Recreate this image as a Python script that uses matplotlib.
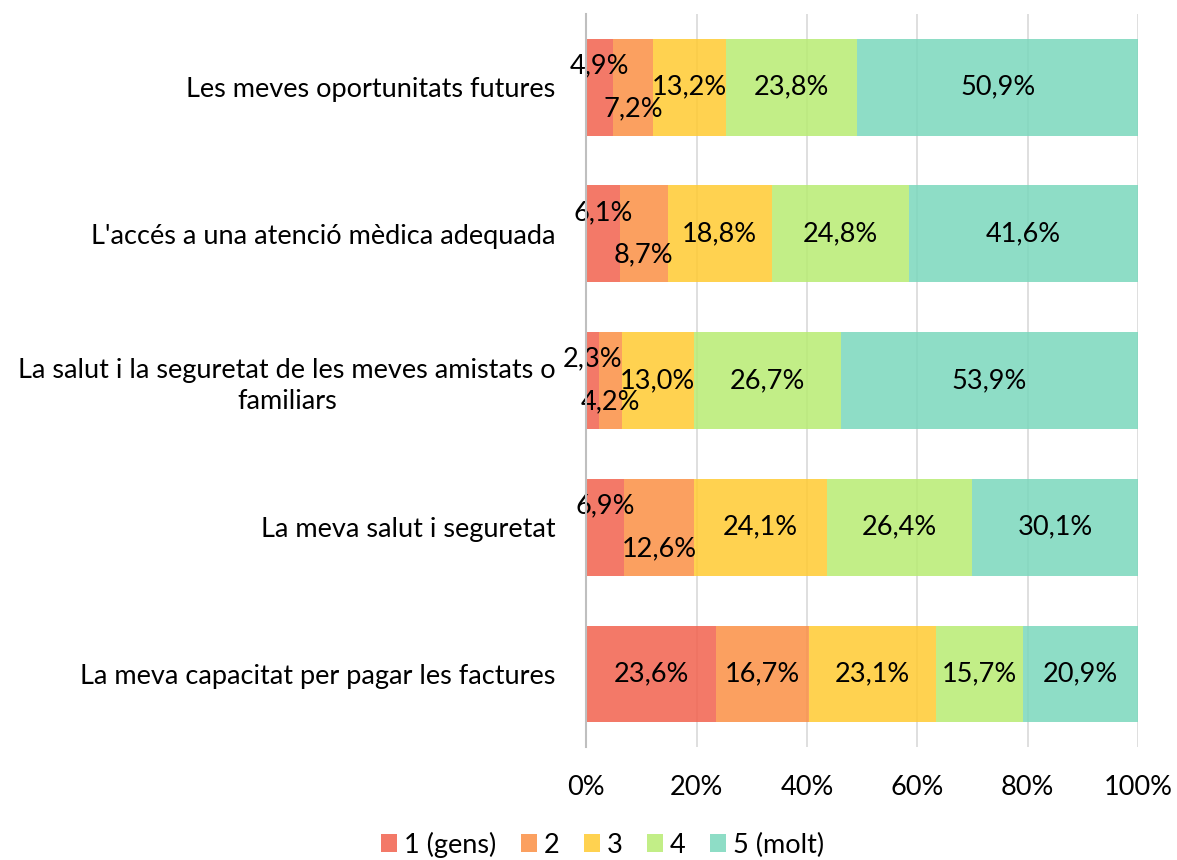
import numpy as np
import matplotlib.pyplot as plt
from matplotlib.patches import Patch
from matplotlib.ticker import PercentFormatter

plt.rcParams['font.family'] = ['Lato', 'DejaVu Sans']

categories = [
    "Les meves oportunitats futures",
    "L'accés a una atenció mèdica adequada",
    "La salut i la seguretat de les meves amistats o\nfamiliars",
    "La meva salut i seguretat",
    "La meva capacitat per pagar les factures",
]
series_names = ["1 (gens)", "2", "3", "4", "5 (molt)"]
# one list per answer level, one value per category (top to bottom)
gens_1 = [4.9, 6.1, 2.3, 6.9, 23.6]
level_2 = [7.2, 8.7, 4.2, 12.6, 16.7]
level_3 = [13.2, 18.8, 13.0, 24.1, 23.1]
level_4 = [23.8, 24.8, 26.7, 26.4, 15.7]
molt_5 = [50.9, 41.6, 53.9, 30.1, 20.9]

colors = ["#F2624D", "#FB8F44", "#FFCA31", "#B8EB72", "#7AD7BC"]
fs = 19.5

values = np.array([gens_1, level_2, level_3, level_4, molt_5])
# scale each bar to 100% (rounded values can add to 100,1)
shares = values / values.sum(axis=0) * 100

fig = plt.figure(figsize=(11.77, 8.6), dpi=100)
ax = fig.add_axes([0.498, 0.131, 0.469, 0.853])

y = np.arange(len(categories))
left = np.zeros(len(categories))
for i, name in enumerate(series_names):
    ax.barh(y, shares[i], left=left, height=0.66, color=colors[i],
            alpha=0.85, zorder=2, label=name)
    for j in range(len(categories)):
        dy = 0
        # narrow first segment: push first label up, second down
        if values[0, j] < 10 and i == 0:
            dy = -0.145
        elif values[0, j] < 10 and i == 1:
            dy = 0.145
        ax.text(left[j] + shares[i, j] / 2, y[j] + dy,
                f"{values[i, j]:.1f}%".replace(".", ","),
                ha="center", va="center", fontsize=fs, color="black",
                zorder=3)
    left += shares[i]

ax.set_xlim(0, 100)
ax.set_ylim(len(categories) - 0.5, -0.5)
ax.set_xticks(np.arange(0, 101, 20))
ax.xaxis.set_major_formatter(PercentFormatter(decimals=0))
ax.set_yticks(y)
ax.set_yticklabels(categories, multialignment="center", linespacing=1.3)
ax.tick_params(axis="x", length=0, pad=20, labelsize=fs)
ax.tick_params(axis="y", length=0, pad=22, labelsize=fs)
ax.grid(axis="x", color="#D9D9D9", linewidth=1.2, zorder=0)
ax.set_axisbelow(True)
for side in ["top", "right", "bottom"]:
    ax.spines[side].set_visible(False)
ax.spines["left"].set_color("#BFBFBF")
ax.spines["left"].set_linewidth(1.5)
ax.spines["left"].set_zorder(4)

handles = [Patch(facecolor=c, alpha=0.85) for c in colors]
fig.legend(handles, series_names, loc="center", bbox_to_anchor=(0.512, 0.018),
           ncol=5, frameon=False, fontsize=fs, handlelength=0.6,
           handleheight=0.6, handletextpad=0.25, columnspacing=0.9)

fig.savefig("out.png", dpi=100)
